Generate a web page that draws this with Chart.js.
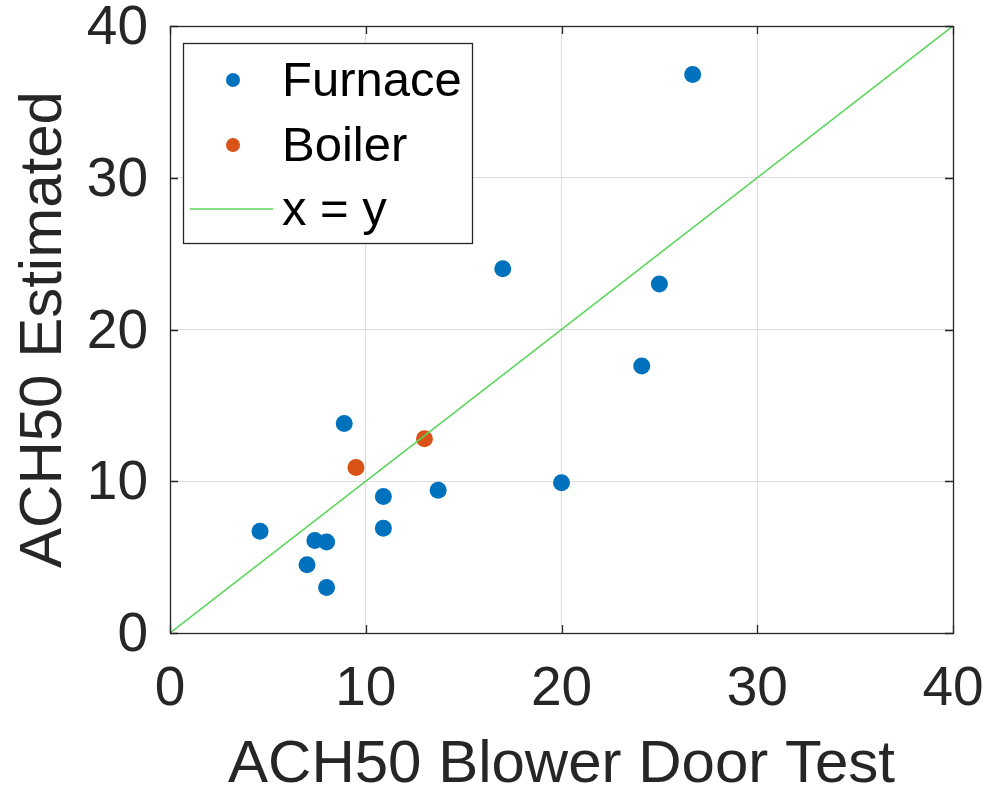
<!DOCTYPE html>
<html>
<head>
<meta charset="utf-8">
<script src="https://cdn.jsdelivr.net/npm/chart.js@4.4.0/dist/chart.umd.min.js"></script>
<style>
  html, body { margin: 0; padding: 0; background: #fff; }
  #chart { display: block; }
</style>
</head>
<body>
<canvas id="chart" width="988" height="792"></canvas>
<script>
// ACH50 from the blower door test vs. the estimated ACH50
const furnaceX = [26.7, 17.0, 25.0, 24.1, 8.9, 20.0, 10.9, 13.7, 10.9, 4.6, 7.4, 8.0, 7.0, 8.0];
const furnaceY = [36.8, 24.0, 23.0, 17.6, 13.8, 9.9, 9.0, 9.4, 6.9, 6.7, 6.1, 6.0, 4.5, 3.0];
const boilerX = [9.5, 13.0];
const boilerY = [10.9, 12.8];
const refLine = [0, 40];
const axisTicks = [0, 10, 20, 30, 40];
const seriesLabels = ['Furnace', 'Boiler', 'x = y'];

const BLUE = '#0072BD';
const ORANGE = '#D95319';
const GREEN = '#5cd65c';
const INK = '#262626';
const FONT = '"Liberation Sans", Arial, sans-serif';

const toPoints = (xs, ys) => xs.map((x, i) => ({ x: x, y: ys[i] }));

// box around the axes with small inward tick marks on all four sides
const framePlugin = {
  id: 'frame',
  afterDatasetsDraw(chart) {
    const { ctx, chartArea: a, scales } = chart;
    const len = 8;
    ctx.save();
    ctx.strokeStyle = INK;
    ctx.lineWidth = 1.3;
    ctx.beginPath();
    axisTicks.forEach(v => {
      const px = Math.round(scales.x.getPixelForValue(v)) + 0.5;
      const py = Math.round(scales.y.getPixelForValue(v)) + 0.5;
      ctx.moveTo(px, a.bottom); ctx.lineTo(px, a.bottom - len);
      ctx.moveTo(px, a.top); ctx.lineTo(px, a.top + len);
      ctx.moveTo(a.left, py); ctx.lineTo(a.left + len, py);
      ctx.moveTo(a.right, py); ctx.lineTo(a.right - len, py);
    });
    ctx.stroke();
    ctx.strokeRect(Math.round(a.left) + 0.5, Math.round(a.top) + 0.5,
      Math.round(a.right - a.left), Math.round(a.bottom - a.top));
    ctx.restore();
  }
};

// legend box in the upper left corner of the plot
const legendPlugin = {
  id: 'boxLegend',
  afterDraw(chart) {
    const { ctx, chartArea: a } = chart;
    const x0 = a.left + 13, y0 = a.top + 17, w = 289, h = 200;
    const rows = [a.top + 54, a.top + 119, a.top + 183];
    ctx.save();
    ctx.fillStyle = '#fff';
    ctx.fillRect(x0, y0, w, h);
    ctx.strokeStyle = INK;
    ctx.lineWidth = 1.3;
    ctx.strokeRect(x0 + 0.5, y0 + 0.5, w, h);
    chart.data.datasets.forEach((ds, i) => {
      const y = rows[i];
      if (ds.showLine) {
        ctx.strokeStyle = ds.borderColor;
        ctx.lineWidth = ds.borderWidth;
        ctx.beginPath();
        ctx.moveTo(x0 + 7, y);
        ctx.lineTo(x0 + 90, y);
        ctx.stroke();
      } else {
        ctx.fillStyle = ds.backgroundColor;
        ctx.beginPath();
        ctx.arc(x0 + 50, y, 7, 0, Math.PI * 2);
        ctx.fill();
      }
      ctx.fillStyle = '#000';
      ctx.font = '49px ' + FONT;
      ctx.textAlign = 'left';
      ctx.textBaseline = 'middle';
      ctx.fillText(ds.label, x0 + 99, y + 2);
    });
    ctx.restore();
  }
};

const axisScale = (title, isX) => ({
  type: 'linear',
  min: 0,
  max: 40,
  afterBuildTicks: s => { s.ticks = axisTicks.map(v => ({ value: v })); },
  afterFit: s => {
    if (isX) { s.height = 159; s.paddingLeft = 0; s.paddingRight = 0; }
    else { s.width = 170; s.paddingTop = 0; s.paddingBottom = 0; }
  },
  border: { display: false },
  grid: { color: '#dedede', lineWidth: 1, drawTicks: false },
  ticks: {
    color: INK,
    font: { family: FONT, size: 55 },
    padding: isX ? 24 : 22,
    labelOffset: isX ? 0 : 3,
    maxRotation: 0
  },
  title: {
    display: true,
    text: title,
    color: INK,
    font: { family: FONT, size: 60, lineHeight: isX ? 0.9 : 1 },
    padding: isX ? { bottom: 0 } : { top: 14 }
  }
});

new Chart(document.getElementById('chart').getContext('2d'), {
  type: 'scatter',
  data: {
    datasets: [
      {
        label: seriesLabels[0],
        data: toPoints(furnaceX, furnaceY),
        backgroundColor: BLUE,
        borderWidth: 0,
        pointRadius: 8.5,
        order: 2
      },
      {
        label: seriesLabels[1],
        data: toPoints(boilerX, boilerY),
        backgroundColor: ORANGE,
        borderWidth: 0,
        pointRadius: 8.5,
        order: 1
      },
      {
        label: seriesLabels[2],
        data: toPoints(refLine, refLine),
        showLine: true,
        borderColor: GREEN,
        borderWidth: 1.6,
        pointRadius: 0,
        order: 0
      }
    ]
  },
  options: {
    responsive: false,
    devicePixelRatio: 1,
    animation: false,
    layout: { padding: { top: 26, right: 35, left: 0, bottom: 0 } },
    plugins: {
      legend: { display: false },
      tooltip: { enabled: false }
    },
    scales: {
      x: axisScale('ACH50 Blower Door Test', true),
      y: axisScale('ACH50 Estimated', false)
    }
  },
  plugins: [framePlugin, legendPlugin]
});
</script>
</body>
</html>
